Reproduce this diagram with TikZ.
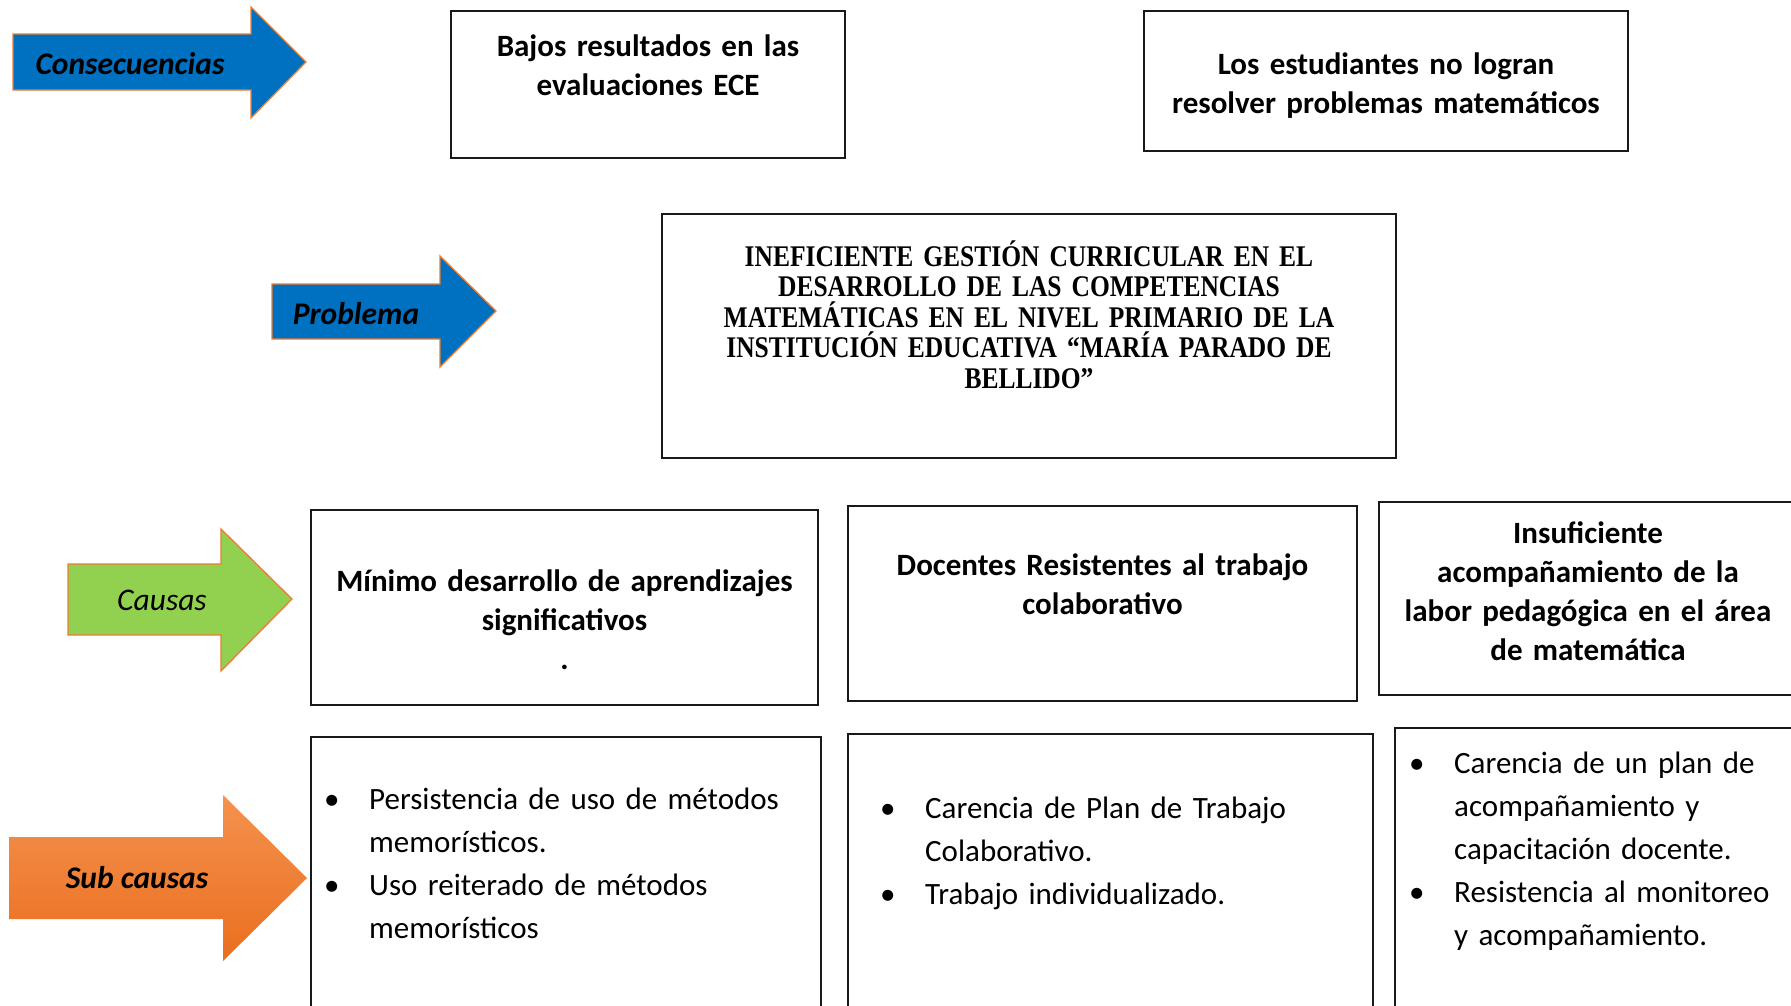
\documentclass[tikz,border=0pt]{standalone}
\usepackage{fontspec}
\setmainfont{Carlito}
\newfontfamily\problemfont{Liberation Serif}[FakeStretch=0.85]
\definecolor{arrowblue}{HTML}{0070C0}
\definecolor{edgeorange}{HTML}{ED7D31}
\definecolor{arrowgreen}{HTML}{92D050}
\definecolor{subtop}{HTML}{F4924F}
\definecolor{subbottom}{HTML}{EA6E1E}
\tikzstyle{bluearrow}=[fill=arrowblue,draw=edgeorange,line width=1.3pt]
\tikzstyle{greenarrow}=[fill=arrowgreen,draw=edgeorange,line width=1.3pt]
\tikzstyle{orangearrow}=[top color=subtop,bottom color=subbottom,draw=none]
\tikzstyle{tag}=[font=\fontsize{31.5}{34}\selectfont\bfseries\itshape,inner sep=0pt]
\tikzstyle{box}=[draw=black!90,line width=2.7pt,align=center,inner sep=0pt,font=\fontsize{31}{39}\selectfont\bfseries]
\tikzstyle{problem}=[draw=black!90,line width=2.7pt,align=center,inner sep=0pt,font=\problemfont\bfseries\fontsize{30}{30.6}\selectfont]
\tikzstyle{bullets}=[anchor=north west,align=left,inner sep=0pt,font=\fontsize{31}{43}\selectfont]

\begin{document}
\begin{tikzpicture}[x=1pt,y=-1pt]
                  \useasboundingbox (0,0) rectangle (1791,1005);
                  \fill [white] (0,0) rectangle (1791,1005);
                  \clip (0,0) rectangle (1791,1005);

                  % arrows on the left
                  \draw [bluearrow] (13,34) -- (251,34) -- (251,7) -- (306,62) -- (251,118) -- (251,90) -- (13,90) -- cycle;
                  \draw [bluearrow] (272,284) -- (440,284) -- (440,256) -- (496,311) -- (440,367) -- (440,339) -- (272,339) -- cycle;
                  \draw [greenarrow] (68,564) -- (221,564) -- (221,529) -- (292,599) -- (221,671) -- (221,635) -- (68,635) -- cycle;
                  \draw [orangearrow] (9,837) -- (223,837) -- (223,795) -- (307,878) -- (223,961) -- (223,919) -- (9,919) -- cycle;

                  \node (consecuencias) at (130,64) [tag] {Consecuencias};
                  \node (problema) at (356,314) [tag] {Problema};
                  \node (causas) at (162,600) [tag,font=\fontsize{31.5}{34}\selectfont\itshape] {Causas};
                  \node (subcausas) at (137,878) [tag] {Sub causas};

                  % consecuencias
                  \node (bajos) at (648,84.5) [box,minimum width=394pt,minimum height=147pt,text width=380pt] {Bajos resultados en las\\evaluaciones ECE\\\mbox{}};
                  \node (logran) at (1386,81) [box,minimum width=484pt,minimum height=140pt,text width=470pt] {\rule{0pt}{30pt}Los estudiantes no logran\\resolver problemas matemáticos};

                  % problema
                  \node (central) at (1029,336) [problem,minimum width=734pt,minimum height=244pt,text width=700pt] {INEFICIENTE GESTIÓN CURRICULAR EN EL\\DESARROLLO DE LAS COMPETENCIAS\\MATEMÁTICAS EN EL NIVEL PRIMARIO DE LA\\INSTITUCIÓN EDUCATIVA “MARÍA PARADO DE\\BELLIDO”\rule[-43pt]{0pt}{43pt}};

                  % causas
                  \node (minimo) at (564.5,607.5) [box,minimum width=507pt,minimum height=195pt,text width=495pt] {\rule{0pt}{47pt}Mínimo desarrollo de aprendizajes\\significativos\\.};
                  \node (docentes) at (1102.5,603.5) [box,minimum width=509pt,minimum height=195pt,text width=495pt] {Docentes Resistentes al trabajo\\colaborativo\\\mbox{}};
                  \node (insuficiente) at (1588,598.5) [box,minimum width=418pt,minimum height=193pt,text width=405pt] {Insuficiente\\acompañamiento de la\\labor pedagógica en el área\\de matemática\rule[-14pt]{0pt}{14pt}};

                  % sub causas
                  \node (sub1) at (566,888.5) [box,minimum width=510pt,minimum height=303pt] {};
                  \node (sub2) at (1110.5,887) [box,minimum width=525pt,minimum height=306pt] {};
                  \node (sub3) at (1602.5,884) [box,minimum width=415pt,minimum height=312pt] {};

                  \node (sub1list) at (324,787.5) [bullets,text width=480pt] {\hangindent=45pt\hangafter=1\makebox[45pt][l]{\textbullet}Persistencia de uso de métodos\newline memorísticos.\par
                    \hangindent=45pt\hangafter=1\makebox[45pt][l]{\textbullet}Uso reiterado de métodos\newline memorísticos\par};
                  \node (sub2list) at (880,796.5) [bullets,text width=480pt] {\hangindent=45pt\hangafter=1\makebox[45pt][l]{\textbullet}Carencia de Plan de Trabajo\newline Colaborativo.\par
                    \hangindent=45pt\hangafter=1\makebox[45pt][l]{\textbullet}Trabajo individualizado.\par};
                  \node (sub3list) at (1409,751.5) [bullets,text width=380pt] {\hangindent=45pt\hangafter=1\makebox[45pt][l]{\textbullet}Carencia de un plan de\newline acompañamiento y\newline capacitación docente.\par
                    \hangindent=45pt\hangafter=1\makebox[45pt][l]{\textbullet}Resistencia al monitoreo\newline y acompañamiento.\par};
              \end{tikzpicture}
\end{document}
